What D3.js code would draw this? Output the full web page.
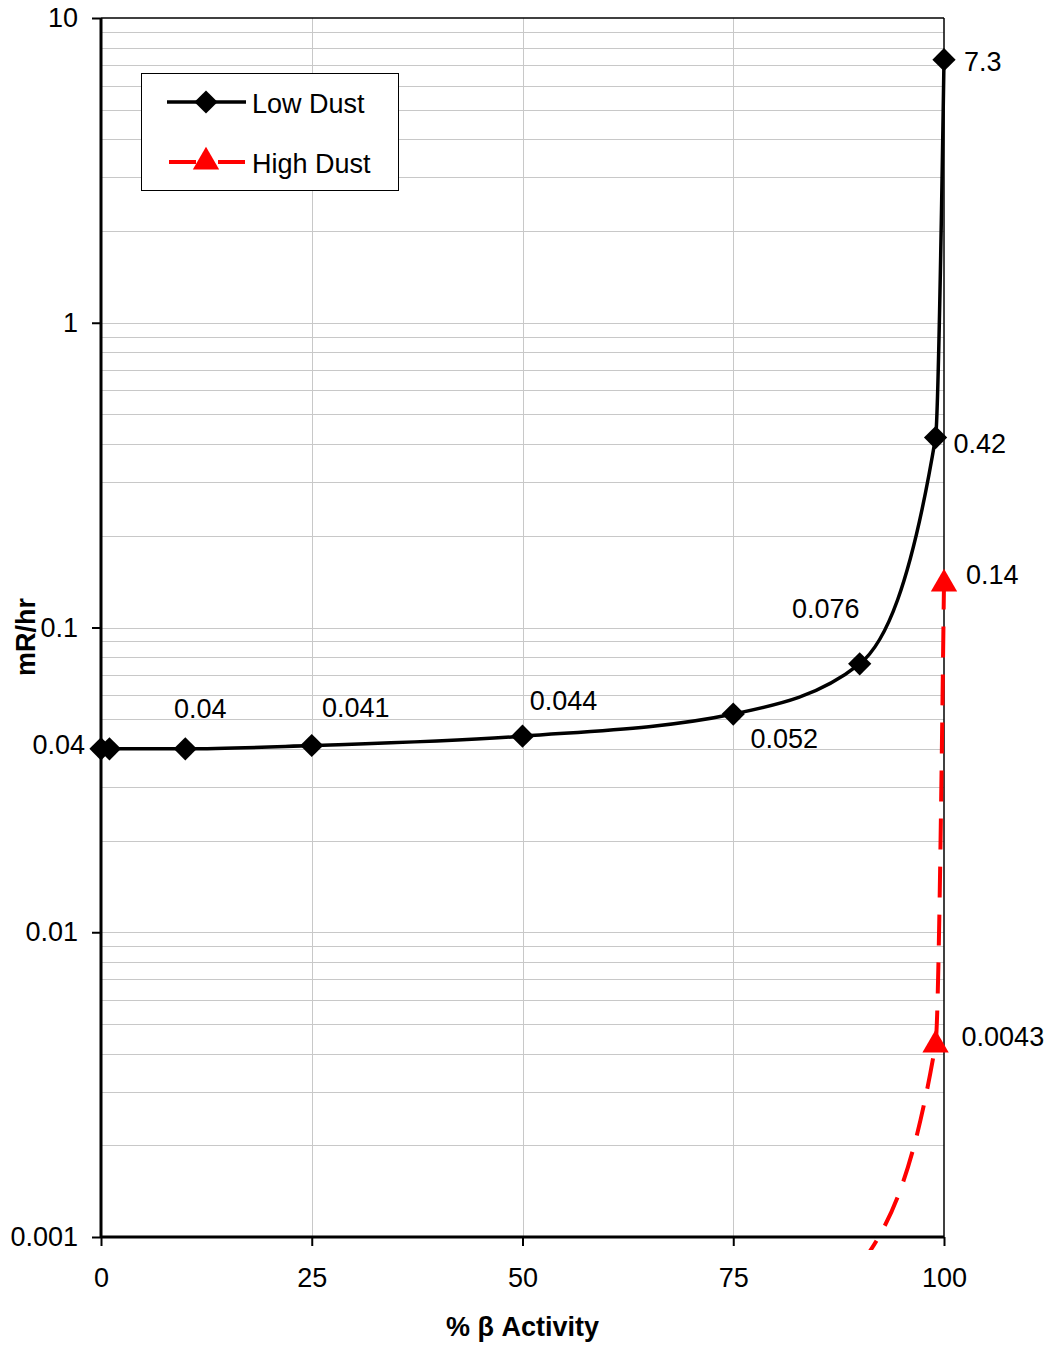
<!DOCTYPE html>
<html>
<head>
<meta charset="utf-8">
<script src="https://cdn.jsdelivr.net/npm/d3@7"></script>
<style>
  html, body { margin: 0; padding: 0; background: #fff; }
  svg { display: block; font-family: "Liberation Sans", Arial, sans-serif; }
</style>
</head>
<body>
<svg id="chart" width="1052" height="1345"></svg>
<script>
// ---- data ----
const lowX = [0, 1, 10, 25, 50, 75, 90, 99, 100];
const lowY = [0.04, 0.04, 0.04, 0.041, 0.044, 0.052, 0.076, 0.42, 7.3];
const lowLabels = ["0.04", "", "0.04", "0.041", "0.044", "0.052", "0.076", "0.42", "7.3"];
const highX = [90, 99, 100];
const highY = [0.0008, 0.0043, 0.14];
const highLabels = ["", "0.0043", "0.14"];
const xTicks = [0, 25, 50, 75, 100];
const yTicks = [0.001, 0.01, 0.1, 1, 10];
const yTickLabels = ["0.001", "0.01", "0.1", "1", "10"];
const seriesNames = ["Low Dust", "High Dust"];
const xTitle = "% β Activity";
const yTitle = "mR/hr";

// ---- layout / style ----
const L = 101, R = 944, T = 18, B = 1237;
const FS = 27;
// label offsets [dx, dy, anchor] per point
const lowLabelPos = [[-16, -4, "end"], null, [15, -40, "middle"], [44, -38, "middle"], [41, -36, "middle"],
                     [51, 24, "middle"], [-34, -56, "middle"], [18, 6, "start"], [20, 2, "start"]];
const highLabelPos = [null, [26, -8, "start"], [22, -9, "start"]];

const svg = d3.select("#chart");
const x = d3.scaleLinear().domain([0, 100]).range([L, R]);
const y = d3.scaleLog().domain([0.001, 10]).range([B, T]);

// gridlines: horizontal (major + minor)
const gridVals = [];
for (let e = -3; e < 1; e++) {
  for (let m = 1; m <= 9; m++) gridVals.push(m * Math.pow(10, e));
}
svg.append("g").selectAll("line").data(gridVals.filter(v => v > 0.001 && v < 10)).join("line")
  .attr("x1", L).attr("x2", R)
  .attr("y1", d => Math.round(y(d)) + 0.5).attr("y2", d => Math.round(y(d)) + 0.5)
  .attr("stroke", "#c8c8c8").attr("stroke-width", 1);
svg.append("g").selectAll("line").data(xTicks.filter(v => v > 0 && v < 100)).join("line")
  .attr("y1", T).attr("y2", B)
  .attr("x1", d => Math.round(x(d)) + 0.5).attr("x2", d => Math.round(x(d)) + 0.5)
  .attr("stroke", "#c8c8c8").attr("stroke-width", 1);

// top & right border
svg.append("line").attr("x1", L).attr("x2", R).attr("y1", T).attr("y2", T).attr("stroke", "#000").attr("stroke-width", 1.5);
svg.append("line").attr("x1", R).attr("x2", R).attr("y1", T).attr("y2", B).attr("stroke", "#000").attr("stroke-width", 1.5);

// axes
const yAxis = d3.axisLeft(y).tickValues(yTicks).tickFormat((d, i) => yTickLabels[i]).tickSize(9).tickPadding(14);
const gy = svg.append("g").attr("transform", `translate(${L},0)`).call(yAxis);
gy.select(".domain").attr("stroke-width", 3).attr("d", `M0,${T}V${B}`);
gy.selectAll(".tick line").attr("stroke-width", 2);
gy.selectAll("text").attr("font-size", FS).attr("font-family", "Liberation Sans, Arial, sans-serif").attr("fill", "#000");

const xAxis = d3.axisBottom(x).tickValues(xTicks).tickSize(9).tickPadding(22);
const gx = svg.append("g").attr("transform", `translate(0,${B})`).call(xAxis);
gx.select(".domain").attr("stroke-width", 3).attr("d", `M${L},0H${R}`);
gx.selectAll(".tick line").attr("stroke-width", 2);
gx.selectAll("text").attr("font-size", FS).attr("font-family", "Liberation Sans, Arial, sans-serif").attr("fill", "#000");

// titles
svg.append("text").attr("x", (L + R) / 2).attr("y", 1336).attr("text-anchor", "middle")
  .attr("font-size", FS).attr("font-weight", "bold").text(xTitle);
svg.append("text").attr("transform", "translate(35,637) rotate(-90)").attr("text-anchor", "middle")
  .attr("font-size", FS).attr("font-weight", "bold").text(yTitle);

// clip for lines
svg.append("clipPath").attr("id", "clip").append("rect")
  .attr("x", L - 5).attr("y", T).attr("width", R - L + 20).attr("height", B - T + 13);

const lowData = lowX.map((v, i) => ({ x: v, y: lowY[i], label: lowLabels[i], pos: lowLabelPos[i] }));
const highData = highX.map((v, i) => ({ x: v, y: highY[i], label: highLabels[i], pos: highLabelPos[i] }));

const line = d3.line().x(d => x(d.x)).y(d => y(d.y)).curve(d3.curveMonotoneX);

svg.append("path").datum(highData).attr("clip-path", "url(#clip)")
  .attr("d", line).attr("fill", "none").attr("stroke", "#ff0000").attr("stroke-width", 4)
  .attr("stroke-dasharray", "31,17");
svg.append("path").datum(lowData).attr("clip-path", "url(#clip)")
  .attr("d", line).attr("fill", "none").attr("stroke", "#000").attr("stroke-width", 3.5);

const diamond = d3.symbol().type(d3.symbolSquare).size(270);
const tri = d3.symbol().type(d3.symbolTriangle).size(300);

svg.append("g").selectAll("path").data(lowData).join("path")
  .attr("d", diamond)
  .attr("transform", d => `translate(${x(d.x)},${y(d.y)}) rotate(45)`)
  .attr("fill", "#000");
svg.append("g").selectAll("path").data(highData.filter(d => d.y >= 0.001)).join("path")
  .attr("d", tri)
  .attr("transform", d => `translate(${x(d.x)},${y(d.y) + 1})`)
  .attr("fill", "#ff0000");

// data labels
function addLabels(data) {
  svg.append("g").selectAll("text").data(data.filter(d => d.label && d.pos)).join("text")
    .attr("x", d => x(d.x) + d.pos[0])
    .attr("y", d => y(d.y) + d.pos[1])
    .attr("dy", "0.36em")
    .attr("text-anchor", d => d.pos[2])
    .attr("font-size", FS).attr("fill", "#000")
    .text(d => d.label);
}
addLabels(lowData);
addLabels(highData);

// legend
const lg = svg.append("g");
lg.append("rect").attr("x", 141.5).attr("y", 73.5).attr("width", 257).attr("height", 117)
  .attr("fill", "#fff").attr("stroke", "#000").attr("stroke-width", 1);
lg.append("line").attr("x1", 167).attr("x2", 246).attr("y1", 102).attr("y2", 102)
  .attr("stroke", "#000").attr("stroke-width", 3.5);
lg.append("path").attr("d", diamond).attr("transform", "translate(206,102) rotate(45)").attr("fill", "#000");
lg.append("text").attr("x", 252).attr("y", 113).attr("font-size", FS).text(seriesNames[0]);
lg.append("line").attr("x1", 169).attr("x2", 245).attr("y1", 162).attr("y2", 162)
  .attr("stroke", "#ff0000").attr("stroke-width", 4).attr("stroke-dasharray", "27,22");
lg.append("path").attr("d", tri).attr("transform", "translate(206,162)").attr("fill", "#ff0000");
lg.append("text").attr("x", 252).attr("y", 173).attr("font-size", FS).text(seriesNames[1]);
</script>
</body>
</html>
